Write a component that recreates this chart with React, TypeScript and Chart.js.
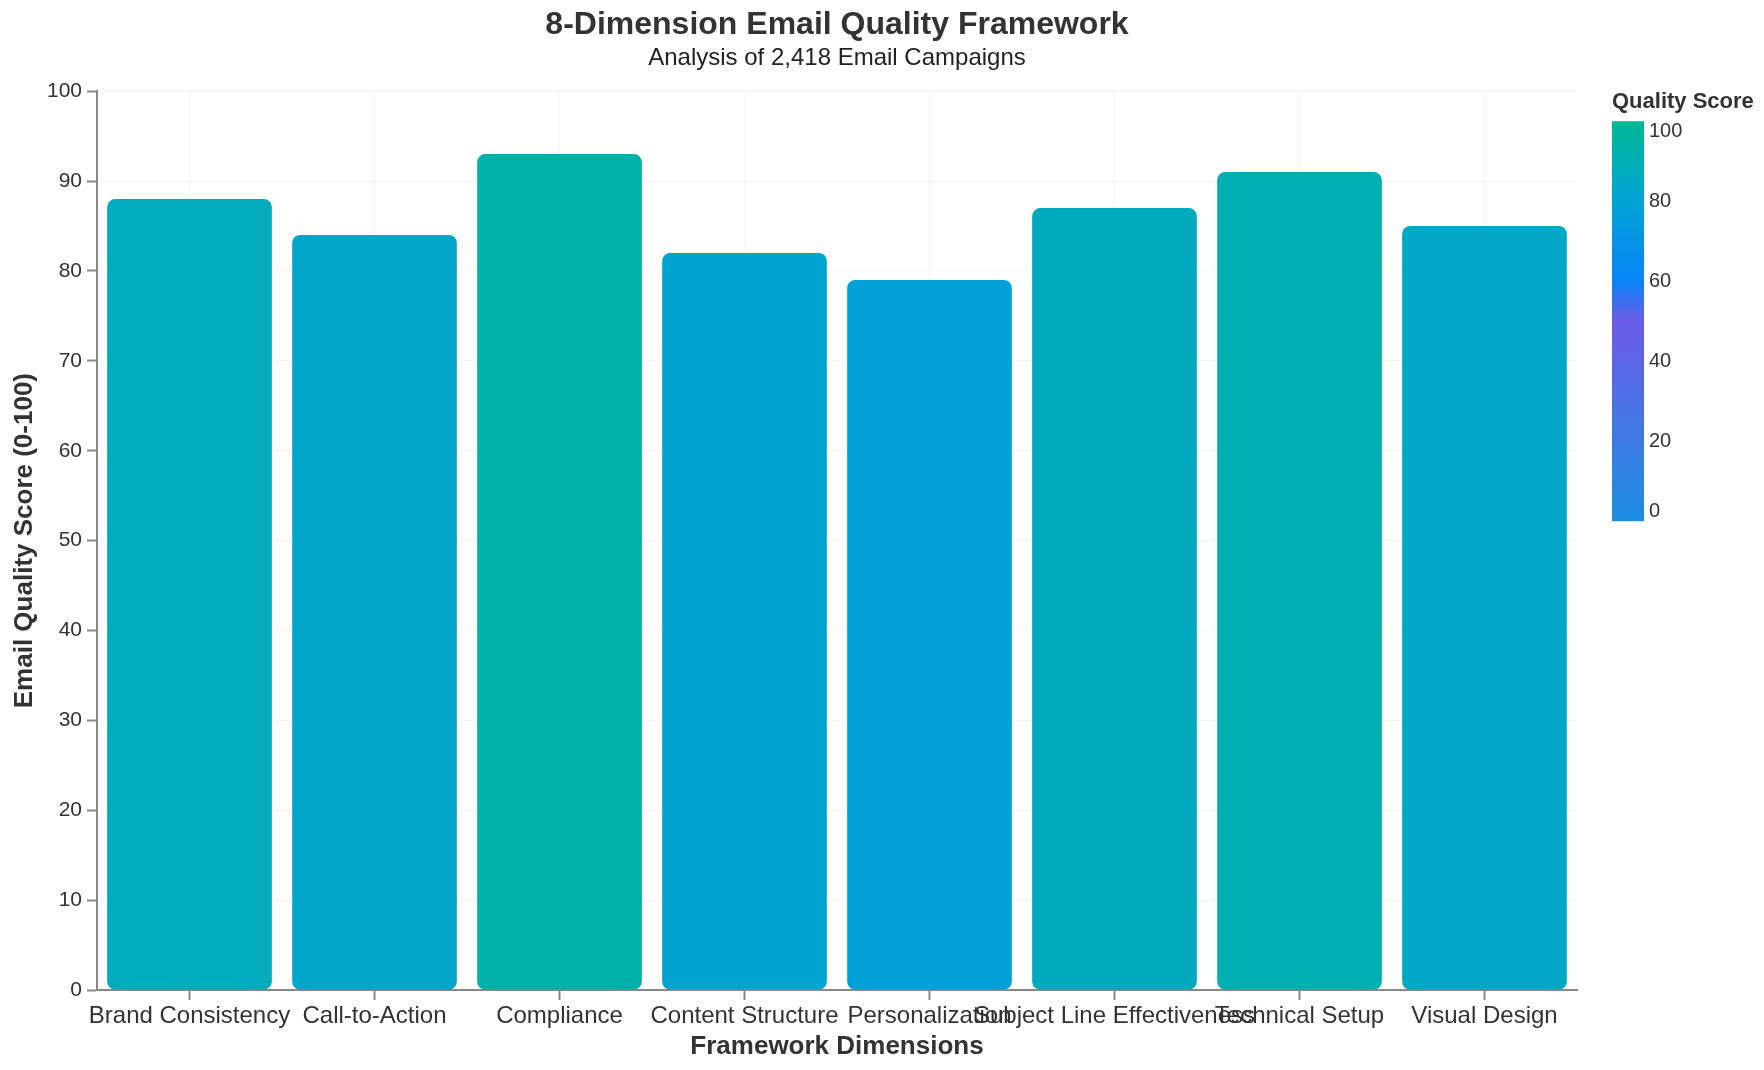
import { useEffect, useRef } from "react";
import { Chart, registerables } from "chart.js";
import type { Plugin } from "chart.js";

Chart.register(...registerables);

// Framework dimensions (x categories) and their average score
const DIMENSIONS = [
  "Brand Consistency",
  "Call-to-Action",
  "Compliance",
  "Content Structure",
  "Personalization",
  "Subject Line Effectiveness",
  "Technical Setup",
  "Visual Design",
];
const SCORES = [88, 84, 93, 82, 79, 87, 91, 85];

// ticks of the colour legend
const LEGEND_TICKS = [0, 20, 40, 60, 80, 100];

// colour ramp: [score, colour]
const RAMP: [number, string][] = [
  [0, "#1b8ee0"],
  [50, "#6c5ce7"],
  [60, "#0984f8"],
  [80, "#00a3d5"],
  [100, "#00b894"],
];

const FONT = "'Liberation Sans', Arial, Helvetica, sans-serif";

function hexToRgb(hex: string) {
  const n = parseInt(hex.slice(1), 16);
  return [(n >> 16) & 255, (n >> 8) & 255, n & 255];
}

function rampColor(v: number) {
  for (let i = 0; i < RAMP.length - 1; i++) {
    const [v0, c0] = RAMP[i];
    const [v1, c1] = RAMP[i + 1];
    if (v >= v0 && v <= v1) {
      const t = (v - v0) / (v1 - v0);
      const a = hexToRgb(c0);
      const b = hexToRgb(c1);
      const rgb = a.map((x, k) => Math.round(x + (b[k] - x) * t));
      return `rgb(${rgb[0]},${rgb[1]},${rgb[2]})`;
    }
  }
  return RAMP[RAMP.length - 1][1];
}

// gradient legend on the right, vega style
const gradientLegend: Plugin<"bar"> = {
  id: "gradientLegend",
  afterDraw(chart) {
    const { ctx, chartArea } = chart;
    const x = chartArea.right + 35;
    const top = chartArea.top + 30;
    const h = 400;
    const w = 32;

    ctx.save();
    ctx.fillStyle = "#333";
    ctx.font = `bold 22px ${FONT}`;
    ctx.textAlign = "left";
    ctx.textBaseline = "middle";
    ctx.fillText("Quality Score", x, chartArea.top + 11);

    const grad = ctx.createLinearGradient(0, top + h, 0, top);
    RAMP.forEach(([v, c]) => grad.addColorStop(v / 100, c));
    ctx.fillStyle = grad;
    ctx.fillRect(x, top, w, h);

    ctx.font = `20px ${FONT}`;
    ctx.fillStyle = "#333";
    LEGEND_TICKS.forEach((v, i) => {
      const y = top + h - (v / 100) * h;
      ctx.textBaseline = i === 0 ? "bottom" : i === LEGEND_TICKS.length - 1 ? "top" : "middle";
      ctx.fillText(String(v), x + w + 5, y);
    });
    ctx.restore();
  },
};

export default function App() {
  const canvasRef = useRef<HTMLCanvasElement>(null);

  useEffect(() => {
    document.body.style.margin = "0";
    if (!canvasRef.current) return;

    const chart = new Chart(canvasRef.current, {
      type: "bar",
      data: {
        labels: DIMENSIONS,
        datasets: [
          {
            label: "Quality Score",
            data: SCORES,
            backgroundColor: SCORES.map((s) => rampColor(s)),
            borderWidth: 0,
            borderRadius: 8,
            borderSkipped: false,
            barPercentage: 0.89,
            categoryPercentage: 1,
          },
        ],
      },
      options: {
        responsive: true,
        maintainAspectRatio: false,
        animation: false,
        layout: { padding: { left: 0, right: 187, top: 0, bottom: 0 } },
        plugins: {
          legend: { display: false },
          tooltip: { enabled: false },
          title: {
            display: true,
            text: "8-Dimension Email Quality Framework",
            color: "#333",
            fullSize: false,
            font: { family: FONT, size: 32, weight: "bold" },
            padding: { top: 6, bottom: 0 },
          },
          subtitle: {
            display: true,
            text: "Analysis of 2,418 Email Campaigns",
            color: "#222",
            fullSize: false,
            font: { family: FONT, size: 24 },
            padding: { top: 0, bottom: 18 },
          },
        },
        scales: {
          x: {
            afterFit: (scale) => {
              scale.height = 80;
            },
            grid: {
              offset: false,
              color: "rgba(0,0,0,0.045)",
              tickColor: "#888",
              tickLength: 10,
              tickWidth: 2,
            },
            border: { color: "#888", width: 2 },
            ticks: {
              color: "#333",
              autoSkip: false,
              maxRotation: 0,
              minRotation: 0,
              padding: 2,
              font: { family: FONT, size: 24 },
            },
            title: {
              display: true,
              text: "Framework Dimensions",
              color: "#333",
              font: { family: FONT, size: 26, weight: "bold" },
              padding: { top: 0, bottom: 8 },
            },
          },
          y: {
            min: 0,
            max: 100,
            afterFit: (scale) => {
              scale.width = 97;
            },
            grid: {
              color: "rgba(0,0,0,0.045)",
              tickColor: "#888",
              tickLength: 10,
              tickWidth: 2,
            },
            border: { color: "#888", width: 2 },
            ticks: {
              stepSize: 10,
              color: "#333",
              padding: 5,
              font: { family: FONT, size: 21 },
            },
            title: {
              display: true,
              text: "Email Quality Score (0-100)",
              color: "#333",
              font: { family: FONT, size: 26, weight: "bold" },
              padding: { top: 9, bottom: 0 },
            },
          },
        },
      },
      plugins: [gradientLegend],
    });

    return () => {
      chart.destroy();
    };
  }, []);

  return (
    <div style={{ width: 1764, height: 1070, background: "#fff" }}>
      <canvas ref={canvasRef} />
    </div>
  );
}
